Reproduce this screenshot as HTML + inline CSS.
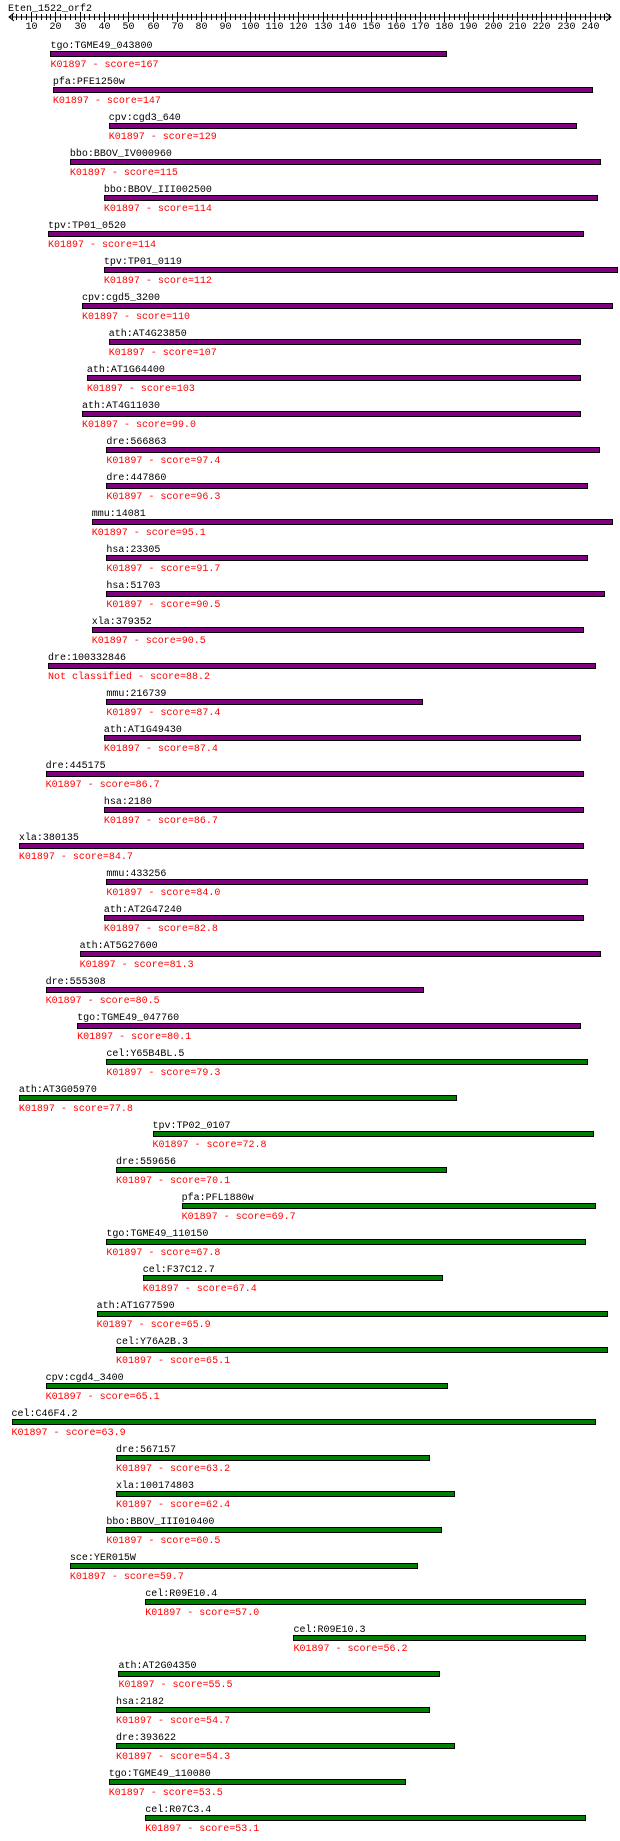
<!DOCTYPE html>
<html><head><meta charset="utf-8"><style>
html,body{margin:0;padding:0;background:#fff;width:620px;height:1841px;overflow:hidden}
svg text{font-family:"Liberation Mono","DejaVu Sans Mono",monospace;font-size:10px}
</style></head><body>
<svg id="chart" width="620" height="1841" xmlns="http://www.w3.org/2000/svg">
<text x="8" y="11" fill="#000">Eten_1522_orf2</text>
<g id="axis"></g>
<g id="rows"></g>
</svg>
<script>
const names=["tgo:TGME49_043800","pfa:PFE1250w","cpv:cgd3_640","bbo:BBOV_IV000960","bbo:BBOV_III002500","tpv:TP01_0520","tpv:TP01_0119","cpv:cgd5_3200","ath:AT4G23850","ath:AT1G64400","ath:AT4G11030","dre:566863","dre:447860","mmu:14081","hsa:23305","hsa:51703","xla:379352","dre:100332846","mmu:216739","ath:AT1G49430","dre:445175","hsa:2180","xla:380135","mmu:433256","ath:AT2G47240","ath:AT5G27600","dre:555308","tgo:TGME49_047760","cel:Y65B4BL.5","ath:AT3G05970","tpv:TP02_0107","dre:559656","pfa:PFL1880w","tgo:TGME49_110150","cel:F37C12.7","ath:AT1G77590","cel:Y76A2B.3","cpv:cgd4_3400","cel:C46F4.2","dre:567157","xla:100174803","bbo:BBOV_III010400","sce:YER015W","cel:R09E10.4","cel:R09E10.3","ath:AT2G04350","hsa:2182","dre:393622","tgo:TGME49_110080","cel:R07C3.4"];
const kos=["K01897","K01897","K01897","K01897","K01897","K01897","K01897","K01897","K01897","K01897","K01897","K01897","K01897","K01897","K01897","K01897","K01897","Not classified","K01897","K01897","K01897","K01897","K01897","K01897","K01897","K01897","K01897","K01897","K01897","K01897","K01897","K01897","K01897","K01897","K01897","K01897","K01897","K01897","K01897","K01897","K01897","K01897","K01897","K01897","K01897","K01897","K01897","K01897","K01897","K01897"];
const scores=["167","147","129","115","114","114","112","110","107","103","99.0","97.4","96.3","95.1","91.7","90.5","90.5","88.2","87.4","87.4","86.7","86.7","84.7","84.0","82.8","81.3","80.5","80.1","79.3","77.8","72.8","70.1","69.7","67.8","67.4","65.9","65.1","65.1","63.9","63.2","62.4","60.5","59.7","57.0","56.2","55.5","54.7","54.3","53.5","53.1"];
const starts=[18,19,42,26,40,17,40,31,42,33,31,41,41,35,41,41,35,17,41,40,16,40,5,41,40,30,16,29,41,5,60,45,72,41,56,37,45,16,2,45,45,41,26,57,118,46,45,45,42,57];
const ends=[181,241,234,244,243,237,251,249,236,236,236,244,239,249,239,246,237,242,171,236,237,237,237,239,237,244,171,236,239,185,241,181,242,238,179,247,247,181,242,174,184,179,169,238,238,178,174,184,164,238];
const tickMin=2, tickMax=248, tickStep=2, labelStep=10;
const NS="http://www.w3.org/2000/svg";
function xs(v){return 31+(v-10)*2.43;}
function mk(t,a,p){const e=document.createElementNS(NS,t);for(const k in a)e.setAttribute(k,a[k]);p.appendChild(e);return e;}
const ax=document.getElementById('axis');
const ay=17;
const al=mk('line',{x1:9,y1:ay,x2:611,y2:ay,stroke:'#000','stroke-width':1},ax);


const arL=mk('path',{d:`M14 ${ay-4} L9 ${ay} L14 ${ay+4}`,fill:'none',stroke:'#000'},ax);


const arR=mk('path',{d:`M606 ${ay-4} L611 ${ay} L606 ${ay+4}`,fill:'none',stroke:'#000'},ax);


for(let v=tickMin;v<=tickMax;v+=tickStep){
  const x=Math.round(xs(v))+0.5, major=v%labelStep===0, h=major?5:3;
  const t=mk('line',{x1:x,y1:ay-h,x2:x,y2:ay+h,stroke:'#000','stroke-width':1},ax);
  
  
  if(major){
    const l=mk('text',{x:x,y:ay+12,'text-anchor':'middle',fill:'#000'},ax);
    
    
    l.textContent=v;
  }
}
const rows=document.getElementById('rows');
for(let i=0;i<names.length;i++){
  const b=36*i, x0=xs(starts[i]), x1=xs(ends[i]);
  const g=mk('g',{},rows);
  
  
  const n=mk('text',{x:x0,y:48+b,fill:'#000'},g);
  
  
  n.textContent=names[i];
  const r=mk('rect',{x:Math.round(x0)+0.5,y:51.5+b,width:Math.round(x1-x0),height:5,fill:parseFloat(scores[i])>=80?'#800080':'#008000',stroke:'#000','stroke-width':1},g);
  
  
  const s=mk('text',{x:x0,y:67+b,fill:'#ff0000'},g);
  
  
  s.textContent=kos[i]+' - score='+scores[i];
}
</script>
</body></html>
